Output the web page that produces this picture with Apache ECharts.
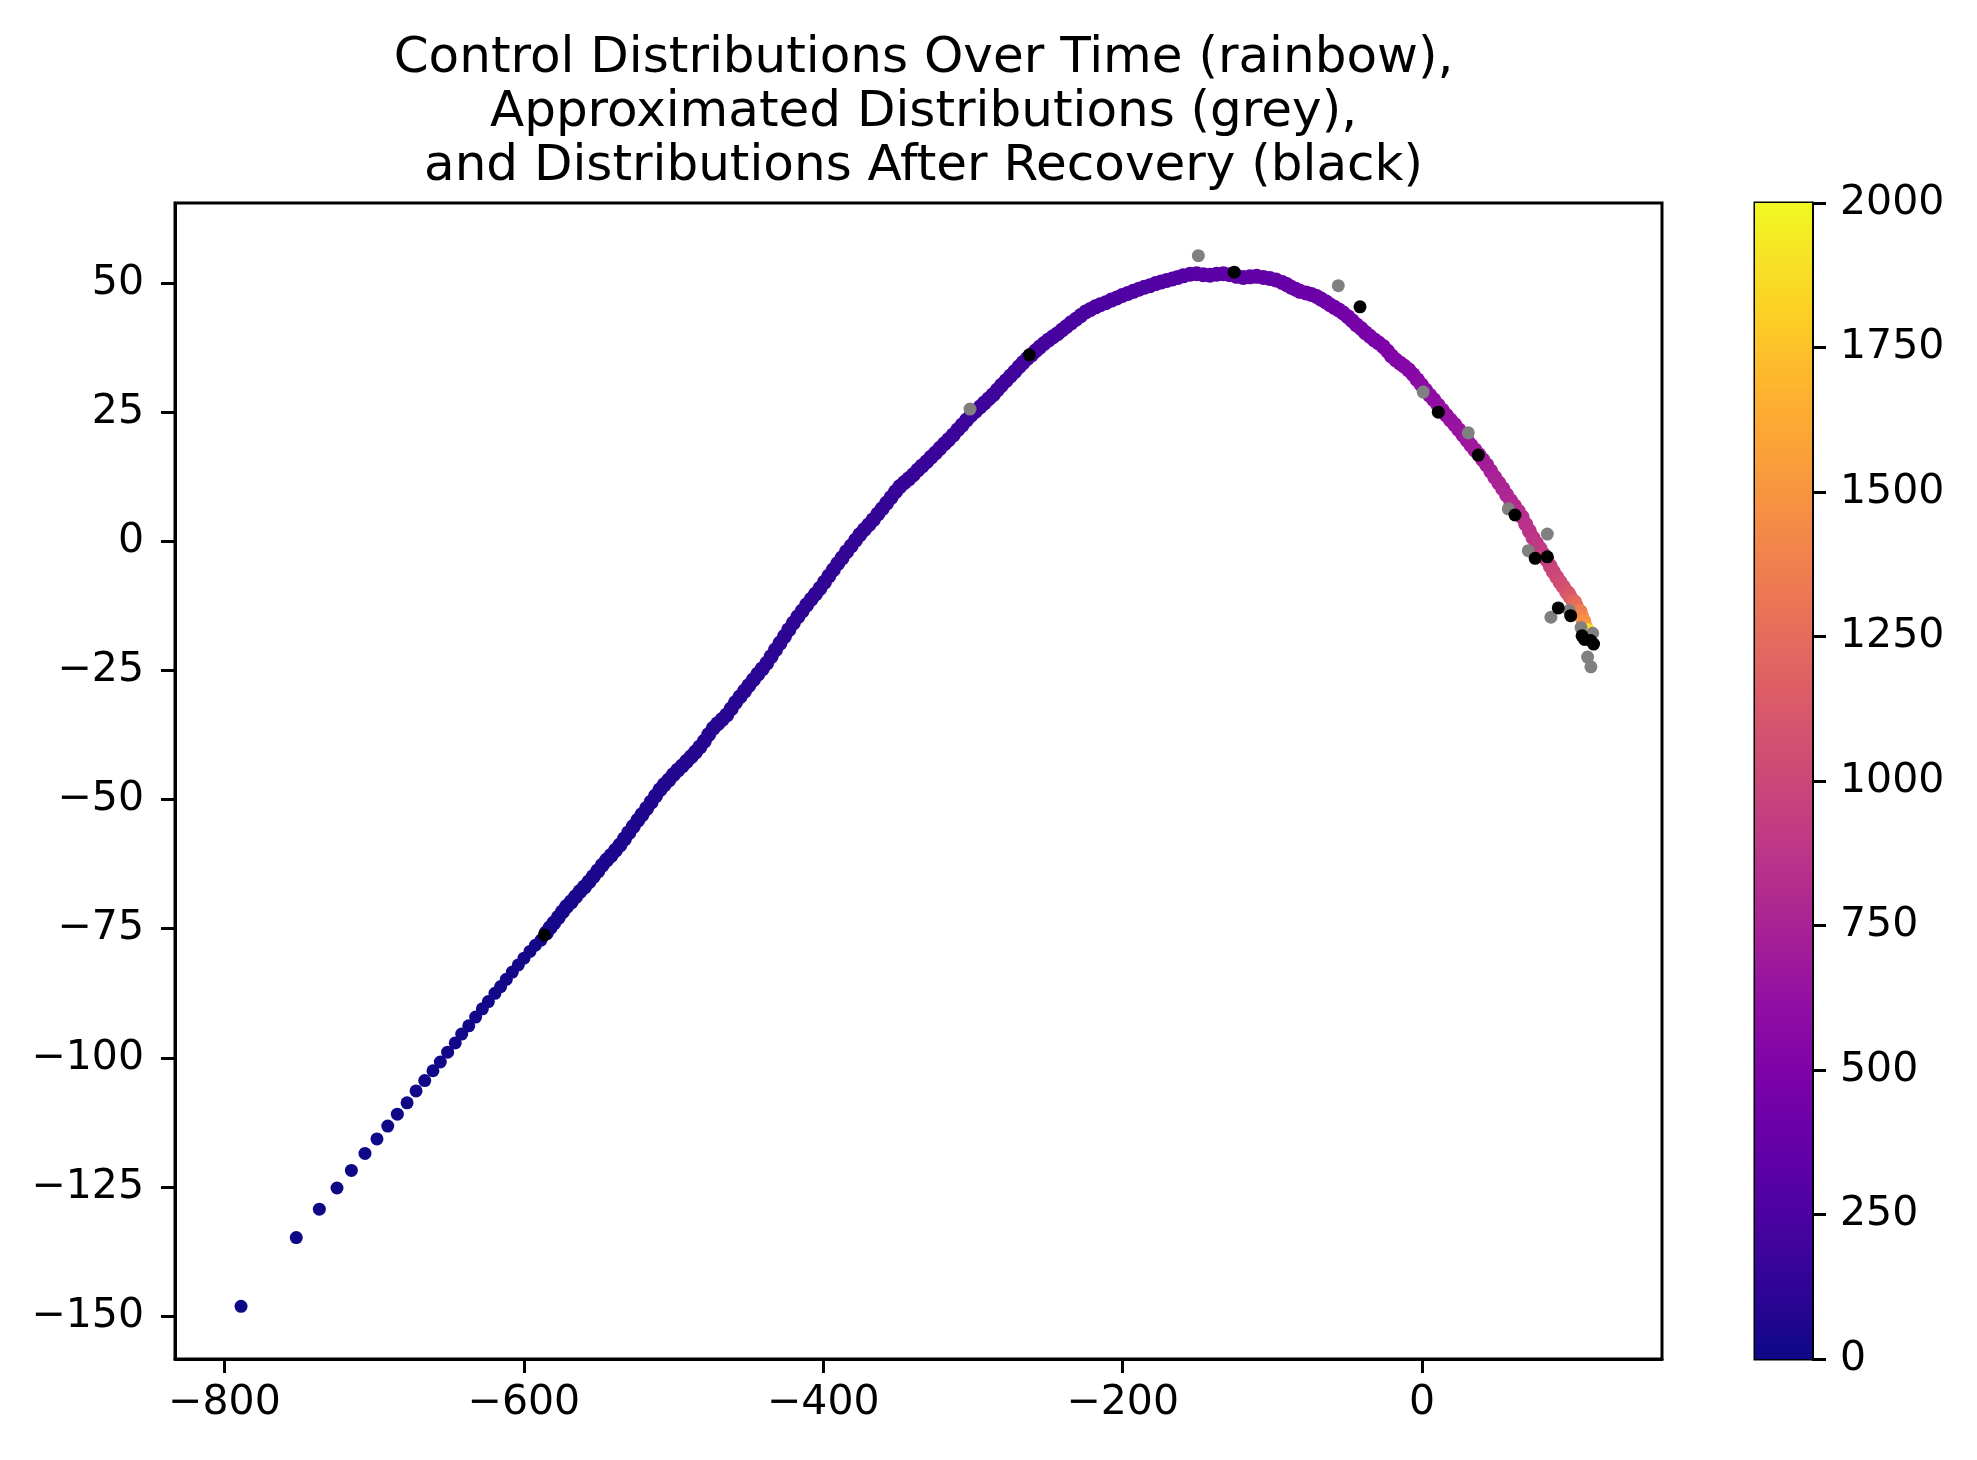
<!DOCTYPE html>
<html><head><meta charset="utf-8">
<script src="https://cdn.jsdelivr.net/npm/echarts@6/dist/echarts.min.js"></script>
<style>html,body{margin:0;padding:0;background:#fff}#c{width:1977px;height:1460px}</style>
</head><body><div id="c"></div><script>
// ---- tick labels ----
const xTicks = [-800, -600, -400, -200, 0];
const yTicks = [-150, -125, -100, -75, -50, -25, 0, 25, 50];
const cbTicks = [0, 250, 500, 750, 1000, 1250, 1500, 1750, 2000];
const colorbarRange = [0, 2000];

// ---- control trajectory: [x, y, time] ----
const controlSparse = [
[-788.9,-148.1,0],[-752.0,-134.8,1],[-736.6,-129.3,2],[-724.8,-125.2,3],[-715.2,-121.8,4],
[-706.1,-118.5,5],[-698.1,-115.7,6],[-690.9,-113.2,7],[-684.5,-110.9,8],[-678.0,-108.7,9],
[-672.0,-106.4,10],[-666.2,-104.4,11],[-660.7,-102.5,12],[-655.8,-100.8,13],[-650.9,-98.9,14],
[-645.8,-97.1,15],[-641.5,-95.4,16],[-636.8,-93.8,17],[-632.2,-92.1,18],[-627.7,-90.5,19],
[-623.7,-89.1,20],[-619.3,-87.5,21],[-615.5,-86.2,22],[-611.7,-84.8,23],[-607.7,-83.4,24],
[-603.7,-82.0,25],[-599.9,-80.7,26],[-595.9,-79.4,27],[-592.3,-78.2,28],[-588.5,-77.2,29]
];
const controlRise = [
[-585.0,-75.8,30],[-582.5,-74.8,32],[-580.0,-73.9,33],[-577.0,-72.8,35],[-574.2,-71.7,36],[-571.4,-70.7,38],
[-568.4,-69.8,39],[-565.5,-68.8,41],[-562.5,-67.8,42],[-559.5,-66.9,44],[-556.5,-65.9,45],[-553.6,-64.9,47],
[-550.6,-63.8,48],[-547.7,-62.7,50],[-544.7,-61.7,51],[-541.7,-60.8,53],[-538.8,-59.8,54],[-535.8,-58.8,56],
[-532.8,-57.6,57],[-529.9,-56.4,59],[-526.9,-55.2,60],[-523.9,-54.0,62],[-521.0,-52.9,63],[-518.0,-51.7,65],
[-515.0,-50.5,66],[-512.1,-49.3,68],[-509.1,-48.1,69],[-506.1,-47.1,71],[-503.2,-46.2,72],[-500.2,-45.2,74],
[-497.2,-44.3,75],[-494.3,-43.5,77],[-491.3,-42.6,78],[-488.3,-41.7,80],[-485.4,-40.8,81],[-482.4,-39.8,83],
[-479.5,-38.7,86],[-476.5,-37.4,88],[-473.5,-36.2,89],[-470.5,-35.3,91],[-467.5,-34.5,92],[-464.5,-33.6,94],
[-461.5,-32.4,95],[-458.6,-31.2,97],[-455.6,-30.1,98],[-452.6,-29.0,100],[-449.7,-27.9,101],[-446.7,-26.8,103],
[-443.7,-25.7,104],[-440.8,-24.7,106],[-437.8,-23.6,108],[-434.8,-22.3,109],[-431.9,-21.0,111],[-428.9,-19.7,112],
[-425.9,-18.4,114],[-423.0,-17.1,115],[-420.0,-15.8,117],[-417.0,-14.6,118],[-414.1,-13.5,120],[-411.1,-12.3,121],
[-408.1,-11.2,123],[-405.2,-10.2,124],[-402.2,-9.1,126],[-399.2,-7.9,128],[-396.3,-6.7,129],[-393.3,-5.5,131],
[-390.3,-4.3,132],[-387.4,-3.2,134],[-384.4,-2.0,135],[-381.4,-0.9,137],[-378.5,0.2,138],[-375.5,1.3,140],
[-372.5,2.3,141],[-369.6,3.2,143],[-366.6,4.2,145],[-363.6,5.3,146],[-360.7,6.3,148],[-357.7,7.4,149],
[-354.7,8.5,151],[-351.8,9.6,152],[-348.8,10.6,154],[-345.8,11.4,155],[-342.9,12.1,157],[-339.9,12.9,158],
[-336.9,13.8,160],[-334.0,14.6,162],[-331.0,15.4,163],[-328.0,16.3,165],[-325.1,17.1,166],[-322.1,18.0,168],
[-319.1,18.9,169],[-316.2,19.7,171],[-313.2,20.6,172],[-310.2,21.6,174],[-307.3,22.5,175],[-304.3,23.5,177],
[-301.3,24.4,178],[-298.3,25.2,180],[-295.3,26.0,182],[-292.4,26.8,183],[-289.5,27.6,185],[-286.5,28.4,186],
[-283.8,29.3,188]
];
const controlArc = [
[-281.0,30.2,190],[-278.0,31.1,193],[-275.0,32.0,196],[-272.0,32.9,199],[-269.2,33.8,202],[-266.5,34.6,205],
[-263.7,35.4,208],[-261.0,36.1,211],[-258.1,36.9,214],[-255.4,37.6,217],[-252.5,38.3,220],[-249.5,39.0,223],
[-246.5,39.6,226],[-243.5,40.2,229],[-240.5,40.9,232],[-237.5,41.6,235],[-234.5,42.3,238],[-231.2,43.0,241],
[-228.0,43.7,244],[-224.8,44.4,247],[-221.5,44.9,250],[-218.2,45.4,253],[-215.0,45.8,256],[-211.3,46.2,259],
[-207.6,46.7,262],[-204.0,47.1,265],[-200.3,47.6,268],[-196.6,48.0,271],[-192.9,48.4,274],[-189.2,48.8,277],
[-185.5,49.2,280],[-181.8,49.5,283],[-178.0,49.9,286],[-174.3,50.2,289],[-170.6,50.5,292],[-166.8,50.8,295],
[-163.2,51.1,298],[-159.6,51.4,301],[-155.0,51.7,304],[-150.6,51.8,307],[-146.2,51.6,313],[-141.7,51.5,318],
[-137.3,51.7,323],[-132.8,51.8,328],[-128.5,51.6,333],[-124.0,51.3,339],[-119.5,51.1,344],[-115.0,51.2,349],
[-110.5,51.3,354],[-106.0,51.1,359],[-101.8,50.9,365],[-97.6,50.6,370],[-93.5,50.1,375],[-90.5,49.7,380],
[-87.5,49.2,385],[-84.5,48.8,391],[-81.6,48.4,396],[-77.5,48.1,401],[-74.0,47.8,406],[-70.5,47.4,411],
[-67.5,46.9,417],[-64.5,46.4,422],[-61.6,45.8,427],[-58.6,45.3,432],[-55.7,44.8,437],[-52.7,44.2,443],
[-49.7,43.5,448],[-46.7,42.7,453],[-43.8,41.9,458],[-40.8,41.2,463],[-37.9,40.4,469],[-34.9,39.7,474],
[-31.9,39.0,479],[-29.0,38.4,484],[-26.0,37.7,490]
];
const controlDescent = [
[-23.0,36.8,500],[-20.5,35.9,508],[-17.5,35.1,518],[-14.7,34.5,527],[-11.9,33.9,536],[-9.0,33.2,545],
[-6.1,32.3,554],[-3.3,31.3,565],[-0.5,30.3,578],[2.3,29.3,587],[5.0,28.3,595],[7.8,27.4,603],
[10.6,26.4,612],[13.4,25.4,620],[16.2,24.4,628],[18.9,23.5,637],[21.7,22.6,645],[24.5,21.6,653],
[27.3,20.6,662],[30.0,19.6,670],[32.6,18.6,678],[35.2,17.7,686],[37.8,16.8,693],[40.5,15.8,702],
[43.1,14.8,714],[45.8,13.6,726],[48.5,12.4,738],[51.2,11.3,750],[53.8,10.2,762],[56.4,9.0,774],
[59.0,7.9,786],[61.6,6.9,798],[64.3,5.8,820],[66.8,4.7,835],[69.2,3.3,848],[71.6,2.0,862],
[74.0,0.7,875],[76.4,-0.4,890],[78.7,-1.4,905],[81.0,-2.5,920],[83.3,-3.6,935],[85.5,-4.8,962],
[87.6,-5.9,982],[89.9,-6.9,1005],[92.1,-7.9,1028],[94.3,-8.8,1052],[96.5,-9.8,1090],[97.5,-10.0,1100],
[98.7,-10.7,1130],[100.9,-11.6,1172],[102.0,-11.8,1220],[103.0,-12.6,1258],[104.8,-13.6,1320],[105.5,-13.6,1360],
[106.5,-14.6,1395],[107.7,-15.6,1450],[108.0,-15.5,1470],[108.8,-16.5,1505],[109.9,-17.2,1560],[110.9,-17.8,1640],
[111.5,-18.2,1800],[110.4,-17.3,1880],[111.0,-18.0,1950],[110.6,-18.5,2000]
];

// ---- approximated distributions (grey) ----
const approxX = [-302.0,-149.5,-56.0,0.7,30.8,57.5,70.9,83.6,86.0,98.2,106.1,113.9,110.5,112.7];
const approxY = [25.6,55.3,49.5,28.9,21.0,6.3,-1.8,1.4,-14.7,-13.4,-16.7,-17.8,-22.4,-24.3];
// ---- distributions after recovery (black) ----
const recoveredX = [-586.3,-262.4,-125.5,-41.5,10.8,37.5,62.0,75.5,83.6,90.9,99.2,106.8,108.5,112.5,114.5];
const recoveredY = [-76.2,36.1,52.1,45.4,25.0,16.7,5.1,-3.3,-3.0,-12.9,-14.4,-18.3,-19.0,-19.2,-19.9];

const plasma = ['#0d0887','#2a0593','#41049d','#5601a4','#6a00a8','#7e03a8','#8f0da4','#a11b9b','#b12a90','#bf3984',
'#cc4778','#d6556d','#e16462','#ea7457','#f2844b','#f89540','#fca636','#feb72d','#fcce25','#f7e225','#f0f921'];

const FONT = 'DejaVu Sans';
const fmt = v => String(v).replace('-', '\u2212');

const controlData = controlSparse.concat(controlRise, controlArc, controlDescent);
const approxData = approxX.map((x, i) => [x, approxY[i]]);
const recoveredData = recoveredX.map((x, i) => [x, recoveredY[i]]);

const chart = echarts.init(document.getElementById('c'), null, {renderer: 'canvas'});
const axisLineStyle = {color: '#000', width: 3};
const labelStyle = {fontSize: 41, color: '#000', fontFamily: FONT};

chart.setOption({
  animation: false,
  backgroundColor: '#fff',
  title: {
    text: 'Control Distributions Over Time (rainbow),\nApproximated Distributions (grey),\nand Distributions After Recovery (black)',
    left: 918.5, top: 27, textAlign: 'center',
    textStyle: {fontSize: 50, fontWeight: 'normal', color: '#000', fontFamily: FONT, lineHeight: 54}
  },
  grid: [
    {left: 175, top: 203, width: 1487, height: 1156, show: true, borderColor: '#000', borderWidth: 3, backgroundColor: 'transparent'},
    {left: 1755, top: 203, width: 57, height: 1156, show: true, borderColor: '#000', borderWidth: 3, backgroundColor: 'transparent'}
  ],
  xAxis: [
    {type: 'value', gridIndex: 0, min: -833, max: 160.2,
     axisLine: {show: true, onZero: false, lineStyle: axisLineStyle},
     axisTick: {show: true, customValues: xTicks, length: 14, lineStyle: axisLineStyle},
     axisLabel: Object.assign({customValues: xTicks, margin: 24, formatter: fmt}, labelStyle),
     splitLine: {show: false}},
    {type: 'category', gridIndex: 1, data: ['cb'], show: false}
  ],
  yAxis: [
    {type: 'value', gridIndex: 0, min: -158.3, max: 65.5,
     axisLine: {show: true, onZero: false, lineStyle: axisLineStyle},
     axisTick: {show: true, customValues: yTicks, length: 14, lineStyle: axisLineStyle},
     axisLabel: Object.assign({customValues: yTicks, margin: 31, formatter: fmt}, labelStyle),
     splitLine: {show: false}},
    {type: 'value', gridIndex: 1, position: 'right', min: colorbarRange[0], max: colorbarRange[1],
     axisLine: {show: true, lineStyle: axisLineStyle},
     axisTick: {show: true, customValues: cbTicks, length: 14, lineStyle: axisLineStyle},
     axisLabel: Object.assign({customValues: cbTicks, margin: 28, formatter: v => String(v)}, labelStyle),
     splitLine: {show: false}}
  ],
  visualMap: {
    type: 'continuous', show: false, min: colorbarRange[0], max: colorbarRange[1],
    dimension: 2, seriesIndex: 0, inRange: {color: plasma}
  },
  series: [
    {type: 'scatter', xAxisIndex: 0, yAxisIndex: 0, data: controlData, silent: true,
     symbolSize: v => (v[2] < 30 ? 13 : 15), itemStyle: {opacity: 1}},
    {type: 'scatter', xAxisIndex: 0, yAxisIndex: 0, data: approxData, symbolSize: 13, silent: true,
     itemStyle: {color: '#808080', opacity: 1}},
    {type: 'scatter', xAxisIndex: 0, yAxisIndex: 0, data: recoveredData, symbolSize: 13, silent: true,
     itemStyle: {color: '#000000', opacity: 1}},
    {type: 'bar', xAxisIndex: 1, yAxisIndex: 1, data: [colorbarRange[1]], barWidth: '100%', silent: true,
     itemStyle: {color: new echarts.graphic.LinearGradient(0, 1, 0, 0,
       plasma.map((c, i) => ({offset: i / (plasma.length - 1), color: c})))}}
  ]
});
</script></body></html>
